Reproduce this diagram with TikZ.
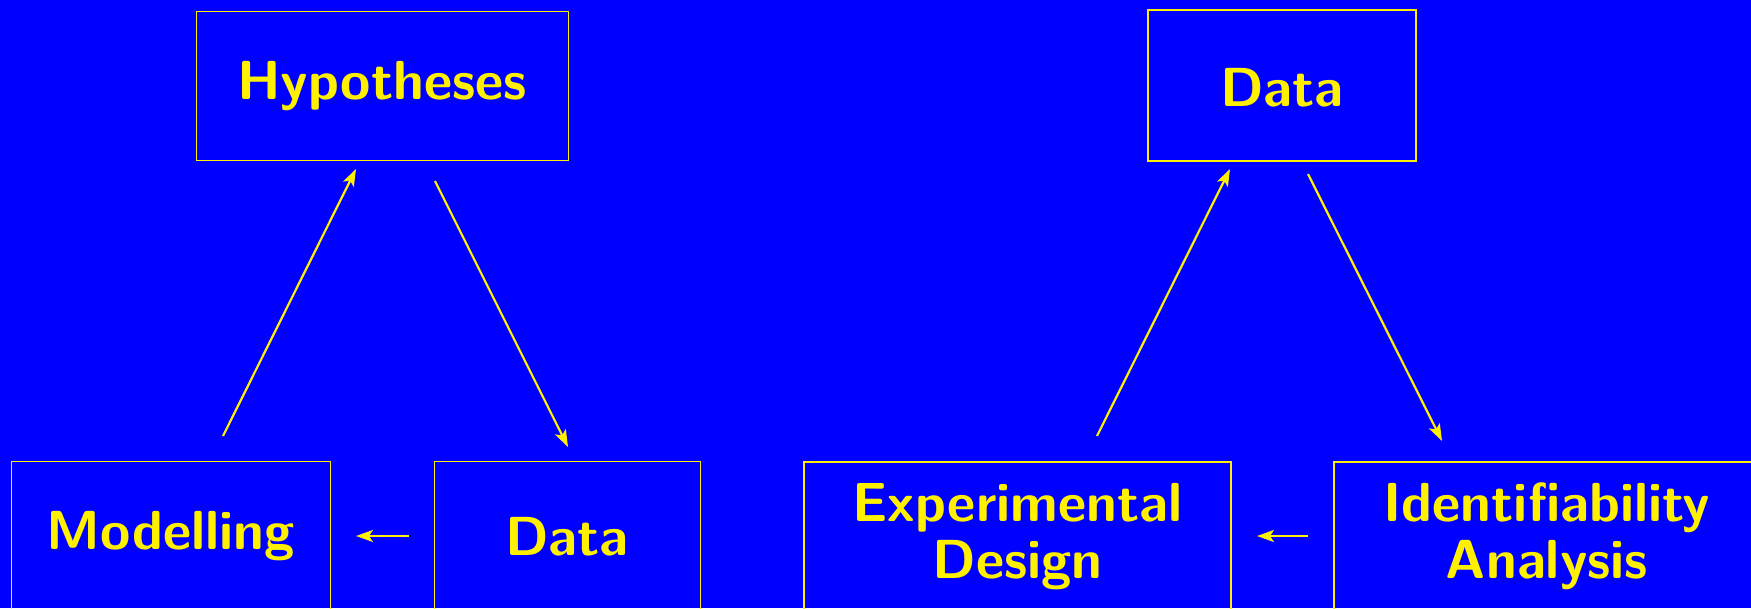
\documentclass[tikz,border=0pt]{standalone}
\usetikzlibrary{arrows.meta}
\definecolor{bg}{RGB}{0,0,255}
\definecolor{fg}{RGB}{255,240,0}
\begin{document}
\begin{tikzpicture}[x=1pt,y=-1pt,
  thinbox/.style={draw=fg, line width=1pt, rectangle, inner sep=0pt},
  thickbox/.style={draw=fg, line width=2pt, rectangle, inner sep=0pt},
  lbl/.style={text=fg, font=\sffamily\bfseries\fontsize{55}{57}\selectfont,
              align=center, inner sep=0pt, anchor=base},
  conn/.style={draw=fg, line width=2.2pt, -{Stealth[length=17pt,width=12pt,inset=4pt]}}]
% page and background
\fill[bg] (0,0) rectangle (1751,608);
\useasboundingbox (0,0) rectangle (1751,608);
\begin{scope}
\clip (0,0) rectangle (1751,608);
% left cycle boxes
\node[thinbox, minimum width=372pt, minimum height=149pt] (hypbox) at (382,85.5) {};
\node[thinbox, minimum width=319pt, minimum height=300pt, anchor=north] (modbox) at (170.5,460.5) {};
\node[thinbox, minimum width=266pt, minimum height=300pt, anchor=north] (datbox) at (567,460.5) {};
% right cycle boxes
\node[thickbox, minimum width=268pt, minimum height=151pt] (datTbox) at (1282,85.5) {};
\node[thickbox, minimum width=427pt, minimum height=300pt, anchor=north] (expbox) at (1017.5,461) {};
\node[thickbox, minimum width=426pt, minimum height=300pt, anchor=north] (idbox) at (1547,461) {};
\end{scope}
% labels (two-line labels sit on the baseline of their last line)
\node[lbl] (hyp) at (382,99) {Hypotheses};
\node[lbl] (mod) at (170.5,549) {Modelling};
\node[lbl] (dat) at (567,555) {Data};
\node[lbl] (datT) at (1282,106) {Data};
\node[lbl] (exp) at (1017.5,578) {Experimental\\Design};
\node[lbl] (idn) at (1547,578) {Identifiability\\Analysis};
% arrow end points
\coordinate (m1) at (223,436);
\coordinate (h1) at (356,169);
\coordinate (h2) at (435,181);
\coordinate (d1) at (568,447);
\coordinate (d2) at (409,536);
\coordinate (m2) at (356,536);
\coordinate (e1) at (1097,436);
\coordinate (t1) at (1230,169);
\coordinate (t2) at (1308,174);
\coordinate (i1) at (1442,441);
\coordinate (i2) at (1308,536);
\coordinate (e2) at (1257,536);
% connectors
\draw[conn] (m1) -- (h1);
\draw[conn] (h2) -- (d1);
\draw[conn] (d2) -- (m2);
\draw[conn] (e1) -- (t1);
\draw[conn] (t2) -- (i1);
\draw[conn] (i2) -- (e2);
\end{tikzpicture}
\end{document}
